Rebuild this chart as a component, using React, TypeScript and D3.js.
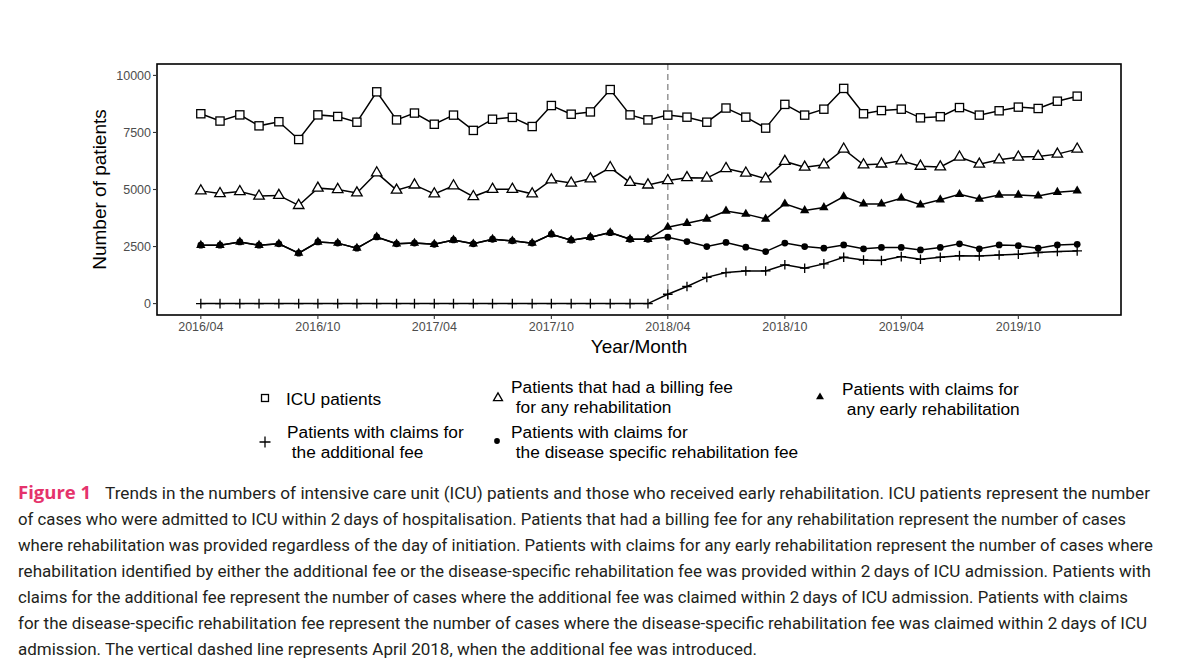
import React from "react";
import * as d3 from "d3";

// monthly categories, 2016/04 .. 2020/01
const months = d3.timeMonth.range(new Date(2016, 3, 1), new Date(2020, 1, 1));

const icuPatients = [
  8320, 8000, 8270, 7790, 7970, 7190, 8270, 8200, 7950, 9280, 8050, 8350, 7860, 8260, 7590,
  8080, 8160, 7760, 8680, 8300, 8400, 9380, 8270, 8050, 8260, 8170, 7950, 8570, 8170, 7690,
  8730, 8260, 8520, 9430, 8320, 8460, 8520, 8140, 8190, 8590, 8260, 8450, 8610, 8550, 8870, 9090,
];
const billingAnyRehab = [
  4940, 4820, 4910, 4710, 4740, 4300, 5060, 5000, 4850, 5730, 4970, 5200, 4810, 5160, 4690,
  5010, 5010, 4810, 5420, 5280, 5470, 5960, 5310, 5200, 5390, 5520, 5500, 5920, 5720, 5470,
  6230, 5980, 6080, 6770, 6080, 6120, 6260, 6020, 5990, 6420, 6110, 6300, 6420, 6450, 6550, 6770,
];
const earlyRehab = [
  2560, 2560, 2700, 2560, 2620, 2210, 2700, 2650, 2430, 2920, 2620, 2650, 2600, 2790, 2620,
  2820, 2750, 2650, 3040, 2780, 2910, 3110, 2820, 2820, 3350, 3520, 3710, 4060, 3920, 3710,
  4370, 4080, 4210, 4690, 4370, 4370, 4620, 4330, 4550, 4790, 4580, 4760, 4760, 4720, 4880, 4940,
];
const additionalFee = [
  0, 0, 0, 0, 0, 0, 0, 0, 0, 0, 0, 0, 0, 0, 0,
  0, 0, 0, 0, 0, 0, 0, 0, 0, 410, 750, 1150, 1360, 1430, 1430,
  1700, 1550, 1740, 2030, 1910, 1890, 2060, 1940, 2030, 2100, 2090, 2130, 2160, 2240, 2280, 2310,
];
const diseaseSpecific = [
  2560, 2560, 2700, 2560, 2620, 2210, 2700, 2650, 2430, 2920, 2620, 2650, 2600, 2790, 2620,
  2820, 2750, 2650, 3040, 2780, 2910, 3110, 2820, 2820, 2910, 2720, 2500, 2680, 2470, 2280,
  2650, 2500, 2430, 2570, 2400, 2460, 2460, 2350, 2460, 2620, 2400, 2570, 2540, 2430, 2570, 2600,
];

const yTicks = [0, 2500, 5000, 7500, 10000];
const xTickLabels = ["2016/04", "2016/10", "2017/04", "2017/10", "2018/04", "2018/10", "2019/04", "2019/10"];
const dashedAt = "2018/04";

const captionLines = [
  "Trends in the numbers of intensive care unit (ICU) patients and those who received early rehabilitation. ICU patients represent the number",
  "of cases who were admitted to ICU within 2\u2009days of hospitalisation. Patients that had a billing fee for any rehabilitation represent the number of cases",
  "where rehabilitation was provided regardless of the day of initiation. Patients with claims for any early rehabilitation represent the number of cases where",
  "rehabilitation identified by either the additional fee or the disease-specific rehabilitation fee was provided within 2\u2009days of ICU admission. Patients with",
  "claims for the additional fee represent the number of cases where the additional fee was claimed within 2\u2009days of ICU admission. Patients with claims",
  "for the disease-specific rehabilitation fee represent the number of cases where the disease-specific rehabilitation fee was claimed within 2\u2009days of ICU",
  "admission. The vertical dashed line represents April 2018, when the additional fee was introduced.",
];
const captionEnds = [1150, 1126, 1153, 1151, 1128, 1147, 757];

type Shape = "square" | "triangleOpen" | "triangle" | "plus" | "circle";

const parseMonth = d3.timeParse("%Y/%m");

const Marker = ({ shape, x, y, k = 1, plus = 4.8 }: { shape: Shape; x: number; y: number; k?: number; plus?: number }) => {
  const t = `translate(${x},${y})`;
  if (shape === "square") {
    const s = 8.2 * k;
    return <rect x={x - s / 2} y={y - s / 2} width={s} height={s} fill="#fff" stroke="#000" strokeWidth={1.3} />;
  }
  if (shape === "triangleOpen") {
    return <path transform={t} d={d3.symbol(d3.symbolTriangle, 48 * k * k)()!} fill="#fff" stroke="#000" strokeWidth={1.3} />;
  }
  if (shape === "triangle") {
    return <path transform={t} d={d3.symbol(d3.symbolTriangle, 38 * k * k)()!} fill="#000" />;
  }
  if (shape === "circle") {
    return <path transform={t} d={d3.symbol(d3.symbolCircle, 36 * k * k)()!} fill="#000" />;
  }
  return <path transform={t} d={`M${-plus},0H${plus}M0,${-plus}V${plus}`} stroke="#000" strokeWidth={1.3} />;
};

const App = () => {
  const W = 1200;
  const H = 665;
  const panel = { left: 157, right: 1121, top: 64, bottom: 315 };

  const t0 = months[0].getTime();
  const t1 = months[months.length - 1].getTime();
  const pad = (t1 - t0) * 0.05;
  const x = d3.scaleTime().domain([new Date(t0 - pad), new Date(t1 + pad)]).range([panel.left, panel.right]);
  const y = d3.scaleLinear().domain([-500, 10500]).range([panel.bottom, panel.top]);

  const series: { values: number[]; shape: Shape }[] = [
    { values: icuPatients, shape: "square" },
    { values: billingAnyRehab, shape: "triangleOpen" },
    { values: diseaseSpecific, shape: "circle" },
    { values: earlyRehab, shape: "triangle" },
    { values: additionalFee, shape: "plus" },
  ];

  const line = d3
    .line<number>()
    .x((_, i) => x(months[i]))
    .y((d) => y(d));

  const font = "'Liberation Sans', Arial, sans-serif";
  const xDash = x(parseMonth(dashedAt)!);

  const legend: { shape: Shape; kx: number; ky: number; tx: number; lines: string[]; ty: number }[] = [
    { shape: "square", kx: 265, ky: 398, tx: 286, lines: ["ICU patients"], ty: 399 },
    { shape: "triangleOpen", kx: 498, ky: 398, tx: 511, lines: ["Patients that had a billing fee", " for any rehabilitation"], ty: 387 },
    { shape: "triangle", kx: 820, ky: 397, tx: 842, lines: ["Patients with claims for", " any early rehabilitation"], ty: 389 },
    { shape: "plus", kx: 265, ky: 442, tx: 287, lines: ["Patients with claims for", " the additional fee"], ty: 432 },
    { shape: "circle", kx: 497, ky: 441, tx: 511, lines: ["Patients with claims for", " the disease specific rehabilitation fee"], ty: 432 },
  ];

  return (
    <svg width={W} height={H} style={{ position: "absolute", left: 0, top: 0, background: "#fff" }}>
      <rect width={W} height={H} fill="#fff" />
      {/* dashed reference line */}
      <line x1={xDash} x2={xDash} y1={panel.top} y2={panel.bottom} stroke="#9a9a9a" strokeWidth={1.6} strokeDasharray="6,4" />

      {series.map((s, si) => (
        <g key={si}>
          <path d={line(s.values)!} fill="none" stroke="#000" strokeWidth={1.5} />
          {s.values.map((v, i) => (
            <Marker key={i} shape={s.shape} x={x(months[i])} y={y(v)} />
          ))}
        </g>
      ))}

      <rect x={panel.left} y={panel.top} width={panel.right - panel.left} height={panel.bottom - panel.top} fill="none" stroke="#000" strokeWidth={1.6} />

      {/* y axis */}
      {yTicks.map((t) => (
        <g key={t}>
          <line x1={panel.left - 4} x2={panel.left} y1={y(t)} y2={y(t)} stroke="#333" strokeWidth={1.1} />
          <text x={panel.left - 6} y={y(t)} dy="0.36em" textAnchor="end" fontFamily={font} fontSize={12.5} fill="#4d4d4d">
            {t}
          </text>
        </g>
      ))}
      {/* x axis */}
      {xTickLabels.map((lab) => {
        const xt = x(parseMonth(lab)!);
        return (
          <g key={lab}>
            <line x1={xt} x2={xt} y1={panel.bottom} y2={panel.bottom + 4} stroke="#333" strokeWidth={1.1} />
            <text x={xt} y={panel.bottom + 16} textAnchor="middle" fontFamily={font} fontSize={12.5} fill="#4d4d4d">
              {lab}
            </text>
          </g>
        );
      })}
      <text x={(panel.left + panel.right) / 2} y={353} textAnchor="middle" fontFamily={font} fontSize={19} fill="#000">
        Year/Month
      </text>
      <text transform={`translate(106,${(panel.top + panel.bottom) / 2}) rotate(-90)`} textAnchor="middle" fontFamily={font} fontSize={19} fill="#000">
        Number of patients
      </text>

      {/* legend */}
      {legend.map((l, i) => (
        <g key={i}>
          <Marker shape={l.shape} x={l.kx} y={l.ky} k={0.85} plus={5.5} />
          {l.lines.map((s, j) => (
            <text key={j} x={l.tx} y={l.ty + j * 20} dy="0.36em" fontFamily={font} fontSize={17.3} fill="#000" style={{ whiteSpace: "pre" }}>
              {s}
            </text>
          ))}
        </g>
      ))}

      {/* caption */}
      <text x={18} y={499} fontFamily="'Open Sans', sans-serif" fontWeight="bold" fontSize={18.5} fill="#e5336c">
        Figure 1
      </text>
      {captionLines.map((s, i) => {
        const x0 = i === 0 ? 105 : 18;
        return (
          <text
            key={i}
            x={x0}
            y={499 + i * 26}
            fontFamily="'Roboto', sans-serif"
            fontSize={16.5}
            fill="#231f20"
            textLength={captionEnds[i] - x0}
            lengthAdjust="spacingAndGlyphs"
          >
            {s}
          </text>
        );
      })}
    </svg>
  );
};

export default App;
